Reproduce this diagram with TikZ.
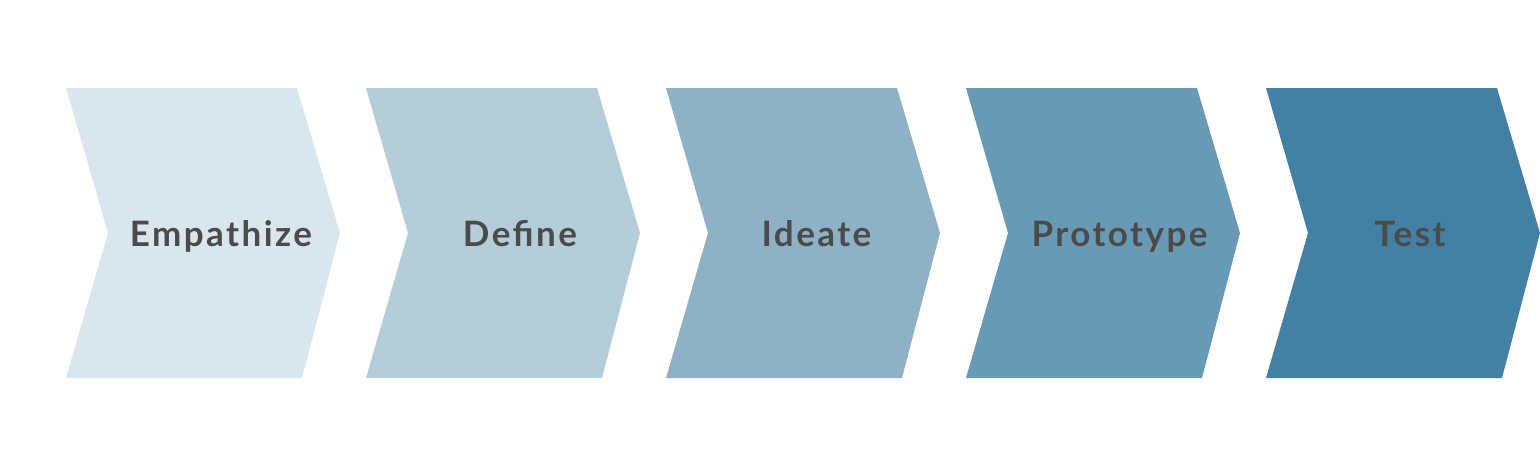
\documentclass[tikz,border=0pt]{standalone}
\usepackage{fontspec}
\newfontfamily\lblfont{Lato}[LetterSpace=7]
\definecolor{cA}{HTML}{DAE6EE}
\definecolor{cB}{HTML}{B4CDD9}
\definecolor{cC}{HTML}{8EB1C6}
\definecolor{cD}{HTML}{6899B5}
\definecolor{cE}{HTML}{4280A4}
\definecolor{txt}{HTML}{4B4B4B}
\tikzset{
  chevron/.style={fill=#1, draw=none},
  steplabel/.style={anchor=base, inner sep=0pt, text=txt, font=\lblfont\bfseries\fontsize{35}{40}\selectfont}
}
\begin{document}
\begin{tikzpicture}[x=1pt,y=-1pt]
\useasboundingbox (0,0) rectangle (1540,466);
\foreach \i/\c/\t/\tx in {0/cA/Empathize/221,1/cB/Define/520,2/cC/Ideate/816.5,3/cD/Prototype/1119.5,4/cE/Test/1410}{
  \pgfmathsetmacro{\xo}{66+300*\i}
  \fill[chevron=\c] (\xo,88) -- ++(231,0) -- ++(43,145) -- ++(-38,145) -- ++(-236,0) -- ++(42,-145) -- cycle;
  \node[steplabel] (lbl\i) at (\tx,246) {\t};
}
\end{tikzpicture}
\end{document}
